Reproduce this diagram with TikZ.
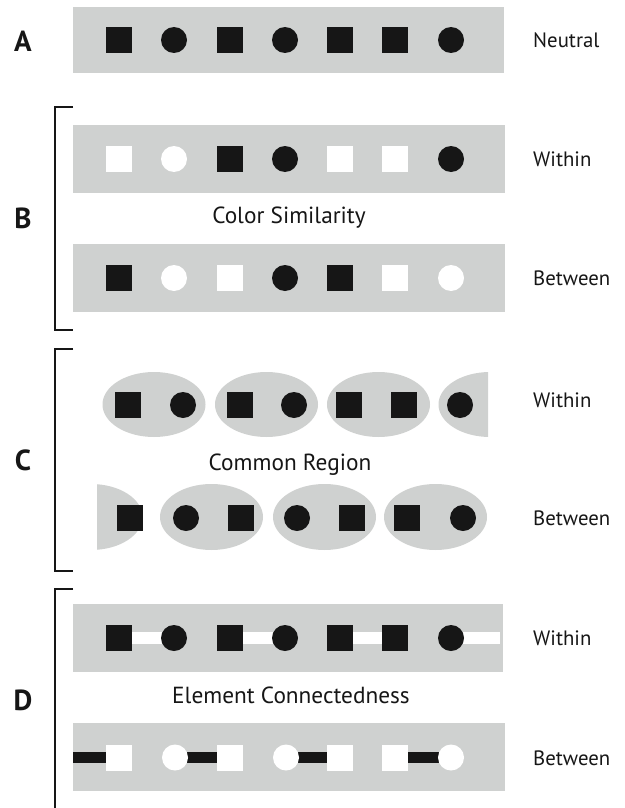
\documentclass[tikz,border=0pt]{standalone}
\usepackage{fontspec}
\setmainfont{PT Sans}
\definecolor{panel}{RGB}{207,209,208}
\definecolor{ink}{RGB}{22,22,22}
\pgfdeclarelayer{bg}
\pgfdeclarelayer{mid}
\pgfsetlayers{bg,mid,main}
\begin{document}
\begin{tikzpicture}[x=1pt,y=-1pt,
  sq/.style={rectangle,minimum size=26pt,inner sep=0pt,fill=#1},
  ci/.style={circle,minimum size=26pt,inner sep=0pt,fill=#1},
  panelbox/.style={fill=panel},
  lbl/.style={font=\fontsize{20.8}{24}\selectfont,anchor=base west,text=ink,inner sep=0pt},
  capt/.style={font=\fontsize{23.3}{26}\selectfont,anchor=base,text=ink,inner sep=0pt},
  letter/.style={font=\bfseries\fontsize{29}{31}\selectfont,anchor=base,text=ink,inner sep=0pt},
  bracket/.style={line width=2pt,draw=ink},
  wbar/.style={line width=11.5pt,draw=white},
  kbar/.style={line width=11.5pt,draw=ink}]
\useasboundingbox (0,0) rectangle (624,808);

% ---------- panels ----------
\begin{pgfonlayer}{bg}
\fill[panelbox] (73,7) rectangle (504,73);
\fill[panelbox] (73,125) rectangle (505,193);
\fill[panelbox] (73,244) rectangle (505,312);
\fill[panelbox] (73,604) rectangle (503,672);
\fill[panelbox] (73,723) rectangle (505,791);
% common regions
\fill[panel] (154,404.5) ellipse [x radius=51.5, y radius=32.5];
\fill[panel] (266.5,404.5) ellipse [x radius=51.5, y radius=32.5];
\fill[panel] (378.5,404.5) ellipse [x radius=51.5, y radius=32.5];
\begin{scope}
\clip (400,360) rectangle (488,450);
\fill[panel] (490,404.5) ellipse [x radius=51.5, y radius=32.5];
\end{scope}
\begin{scope}
\clip (97,470) rectangle (200,560);
\fill[panel] (91,517) ellipse [x radius=51.5, y radius=33];
\end{scope}
\fill[panel] (211.5,517) ellipse [x radius=51.5, y radius=33];
\fill[panel] (324.5,517) ellipse [x radius=51.5, y radius=33];
\fill[panel] (435.5,517) ellipse [x radius=51.5, y radius=33];
\end{pgfonlayer}

% ---------- brackets ----------
\draw[bracket] (73,107) -- (55,107) -- (55,330) -- (73,330);
\draw[bracket] (73,349) -- (55,349) -- (55,571) -- (73,571);
\draw[bracket] (73,589) -- (55,589) -- (55,812);

% ---------- letters ----------
\node[letter] (lA) at (23,52) {A};
\node[letter] (lB) at (23,228) {B};
\node[letter] (lC) at (23,470) {C};
\node[letter] (lD) at (23,710) {D};

% ---------- row A ----------
\foreach \x/\s/\c [count=\i] in {119/sq/ink,174/ci/ink,230/sq/ink,285/ci/ink,340/sq/ink,395/sq/ink,451/ci/ink}
  \node[\s=\c] (a\i) at (\x,40) {};
\node[lbl] (tA) at (533,47.5) {Neutral};

% ---------- row B ----------
\foreach \x/\s/\c [count=\i] in {119/sq/white,174/ci/white,230/sq/ink,285/ci/ink,340/sq/white,395/sq/white,451/ci/ink}
  \node[\s=\c] (b\i) at (\x,159) {};
\foreach \x/\s/\c [count=\i] in {119/sq/ink,174/ci/white,230/sq/white,285/ci/ink,340/sq/ink,395/sq/white,451/ci/white}
  \node[\s=\c] (bb\i) at (\x,278) {};
\node[lbl] (tB1) at (533,166.5) {Within};
\node[lbl] (tB2) at (533,285.5) {Between};
\node[capt] (cB) at (289,223.5) {Color Similarity};

% ---------- row C ----------
\foreach \x/\s [count=\i] in {128/sq,183/ci,240/sq,294/ci,349/sq,404/sq,460/ci}
  \node[\s=ink] (c\i) at (\x,405) {};
\foreach \x/\s [count=\i] in {130/sq,186/ci,241/sq,297/ci,352/sq,407/sq,463/ci}
  \node[\s=ink] (cc\i) at (\x,518) {};
\node[lbl] (tC1) at (533,407.5) {Within};
\node[lbl] (tC2) at (533,525) {Between};
\node[capt] (cC) at (290,470.5) {Common Region};

% ---------- row D ----------
\foreach \x/\s [count=\i] in {119/sq,174/ci,230/sq,285/ci,340/sq,395/sq,451/ci}
  \node[\s=ink] (d\i) at (\x,638) {};
\foreach \x/\s [count=\i] in {119/sq,175/ci,230/sq,286/ci,340/sq,395/sq,451/ci}
  \node[\s=white] (dd\i) at (\x,757.5) {};
\coordinate (dend) at (500,638);
\coordinate (dstart) at (73,757.5);
\begin{pgfonlayer}{mid}
\draw[wbar] (d1.center) -- (d2.center);
\draw[wbar] (d3.center) -- (d4.center);
\draw[wbar] (d5.center) -- (d6.center);
\draw[wbar] (d7.center) -- (dend);
\draw[kbar] (dstart) -- (dd1.center);
\draw[kbar] (dd2.center) -- (dd3.center);
\draw[kbar] (dd4.center) -- (dd5.center);
\draw[kbar] (dd6.center) -- (dd7.center);
\end{pgfonlayer}
\node[lbl] (tD1) at (533,645.5) {Within};
\node[lbl] (tD2) at (533,765) {Between};
\node[capt] (cD) at (291,703.5) {Element Connectedness};
\end{tikzpicture}
\end{document}
